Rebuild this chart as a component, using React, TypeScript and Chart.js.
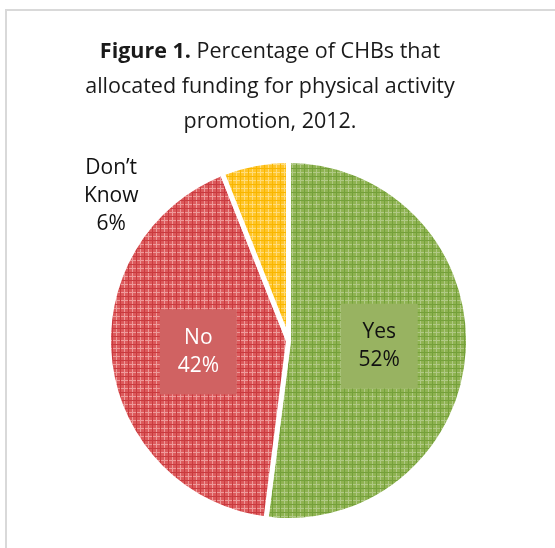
import React, { useEffect, useRef } from "react";
import { Chart, registerables } from "chart.js";

Chart.register(...registerables);

const categories = ["Yes", "No", "Don’t Know"];
const values = [52, 42, 6];
const labelWords = [["Yes"], ["No"], ["Don’t", "Know"]];
const titleBold = "Figure 1.";
const titleRest = [" Percentage of CHBs that", "allocated funding for physical activity", "promotion, 2012."];

const FONT = "'Open Sans', 'Noto Sans', sans-serif";

function makePattern(ctx: CanvasRenderingContext2D, base: string, light: string, dark: string) {
  const c = document.createElement("canvas");
  c.width = 8;
  c.height = 8;
  const g = c.getContext("2d")!;
  g.fillStyle = base;
  g.fillRect(0, 0, 8, 8);
  g.fillStyle = light;
  g.fillRect(4, 0, 1, 8);
  g.fillRect(0, 4, 8, 1);
  g.fillRect(4, 4, 1, 1);
  g.fillStyle = dark;
  g.fillRect(0, 0, 1, 8);
  g.fillRect(0, 0, 8, 1);
  return ctx.createPattern(c, "repeat")!;
}

const titlePlugin = {
  id: "mixedTitle",
  afterDraw(chart: any) {
    const ctx = chart.ctx as CanvasRenderingContext2D;
    ctx.save();
    ctx.fillStyle = "#1a1a1a";
    ctx.textBaseline = "alphabetic";
    ctx.textAlign = "left";
    const cx = 270;
    const size = 21.5;
    const baselines = [58, 93, 128];
    ctx.font = `bold ${size}px ${FONT}`;
    const wb = ctx.measureText(titleBold).width;
    ctx.font = `${size}px ${FONT}`;
    const wr = ctx.measureText(titleRest[0]).width;
    const x = cx - (wb + wr) / 2;
    ctx.font = `bold ${size}px ${FONT}`;
    ctx.fillText(titleBold, x, baselines[0]);
    ctx.font = `${size}px ${FONT}`;
    ctx.fillText(titleRest[0], x + wb, baselines[0]);
    ctx.textAlign = "center";
    ctx.fillText(titleRest[1], cx, baselines[1]);
    ctx.fillText(titleRest[2], cx, baselines[2]);
    ctx.restore();
  },
};

const labelPlugin = {
  id: "sliceLabels",
  afterDatasetsDraw(chart: any) {
    const ctx = chart.ctx as CanvasRenderingContext2D;
    const meta = chart.getDatasetMeta(0);
    ctx.save();
    ctx.font = `21px ${FONT}`;
    ctx.textAlign = "center";
    ctx.textBaseline = "middle";
    const boxColors = ["#98b361", "#d06262", ""];
    const textColors = ["#111111", "#ffffff", "#111111"];
    meta.data.forEach((arc: any, i: number) => {
      const p = arc.getProps(["x", "y", "startAngle", "endAngle", "outerRadius"], true);
      const lines = [...labelWords[i], `${values[i]}%`];
      const lh = 28;
      let lx: number, ly: number;
      if (i < 2) {
        const mid = (p.startAngle + p.endAngle) / 2;
        lx = p.x + Math.cos(mid) * p.outerRadius * 0.505;
        ly = p.y + Math.sin(mid) * p.outerRadius * 0.505;
        const bw = 77;
        const bh = 85;
        ctx.fillStyle = boxColors[i];
        ctx.fillRect(lx - bw / 2, ly - bh / 2, bw, bh);
      } else {
        lx = p.x - p.outerRadius * 0.985;
        ly = p.y - p.outerRadius * 0.8;
      }
      ctx.fillStyle = textColors[i];
      const top = ly - ((lines.length - 1) * lh) / 2;
      lines.forEach((t, k) => ctx.fillText(t, lx, top + k * lh));
    });
    ctx.restore();
  },
};

export default function App() {
  const ref = useRef<HTMLCanvasElement>(null);
  useEffect(() => {
    const canvas = ref.current!;
    const ctx = canvas.getContext("2d")!;
    const bg = [
      makePattern(ctx, "#8fb352", "#b0c985", "#74a03a"),
      makePattern(ctx, "#dc5a5c", "#ee9a9a", "#c93a3e"),
      makePattern(ctx, "#ffc52a", "#ffdc7a", "#f8b600"),
    ];
    const chart = new Chart(canvas, {
      type: "pie",
      data: {
        labels: categories,
        datasets: [
          {
            data: values,
            backgroundColor: bg,
            borderColor: "#ffffff",
            borderWidth: 5,
          },
        ],
      },
      options: {
        responsive: false,
        animation: false,
        layout: { padding: { top: 158, bottom: 25, left: 106, right: 84 } },
        plugins: {
          legend: { display: false },
          tooltip: { enabled: false },
          title: { display: false },
        },
      },
      plugins: [titlePlugin, labelPlugin],
    });
    return () => chart.destroy();
  }, []);
  return (
    <div style={{ position: "fixed", left: 0, top: 0, width: 555, height: 548, background: "#fff", overflow: "hidden" }}>
      <div
        style={{
          position: "absolute",
          left: 5,
          top: 9,
          width: 620,
          height: 620,
          border: "2px solid #d9d9d9",
          boxSizing: "border-box",
        }}
      />
      <canvas ref={ref} width={555} height={548} style={{ position: "absolute", left: 0, top: 0 }} />
    </div>
  );
}
